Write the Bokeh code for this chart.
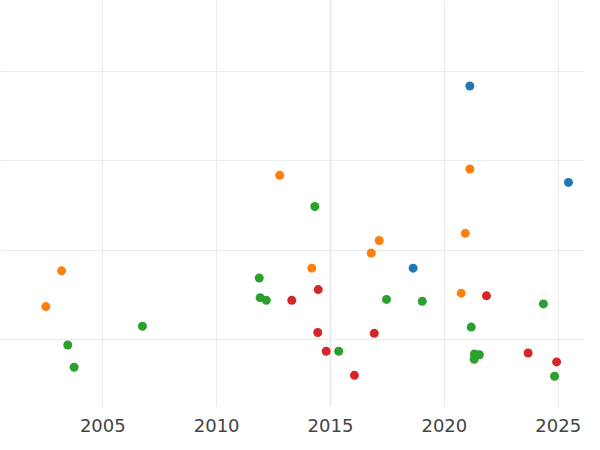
from bokeh.plotting import figure
from bokeh.models import FixedTicker, Span, Range1d
from bokeh.embed import file_html
from bokeh.resources import INLINE

blue_year = [2021.12, 2025.45, 2018.63]
blue_val = [3.84, 2.76, 1.80]

orange_year = [2012.77, 2021.12, 2003.19, 2002.50, 2014.18, 2016.79, 2017.14, 2020.92, 2020.74]
orange_val = [2.84, 2.91, 1.77, 1.37, 1.80, 1.97, 2.11, 2.19, 1.52]

green_year = [2014.31, 2006.74, 2003.46, 2003.74, 2011.87, 2011.91, 2012.18, 2015.36,
              2017.46, 2019.03, 2021.18, 2021.32, 2021.54, 2021.31, 2024.35, 2024.84]
green_val = [2.49, 1.15, 0.94, 0.69, 1.69, 1.47, 1.44, 0.87,
             1.45, 1.43, 1.14, 0.84, 0.83, 0.78, 1.40, 0.59]

red_year = [2013.30, 2014.46, 2014.44, 2014.81, 2016.05, 2016.92, 2021.85, 2023.68, 2024.93]
red_val = [1.44, 1.56, 1.08, 0.87, 0.60, 1.07, 1.49, 0.85, 0.75]

x_ticks = [2005, 2010, 2015, 2020, 2025]
y_grid = [1, 2, 3, 4]

p = figure(width=584, height=434, output_backend="svg", toolbar_location=None,
           x_range=Range1d(2000.507, 2026.155), y_range=Range1d(0.251, 4.797),
           min_border=0, outline_line_color=None, background_fill_color="white",
           border_fill_color="white")

p.yaxis.visible = False
p.xaxis.ticker = FixedTicker(ticks=x_ticks)
p.yaxis.ticker = FixedTicker(ticks=y_grid)
p.xaxis.axis_line_color = None
p.xaxis.major_tick_line_color = None
p.xaxis.minor_tick_line_color = None
p.xaxis.major_label_text_font = "DejaVu Sans"
p.xaxis.major_label_text_font_size = "18px"
p.xaxis.major_label_text_color = "#444444"
p.xaxis.major_label_standoff = 6

p.xgrid.grid_line_color = "#ebebeb"
p.ygrid.grid_line_color = "#ebebeb"
p.xgrid.grid_line_width = 1
p.ygrid.grid_line_width = 1

p.add_layout(Span(location=2015, dimension="height", line_color="#ebebeb", line_width=2, level="underlay"))

for xs, ys, c in [(blue_year, blue_val, "#1f77b4"), (orange_year, orange_val, "#ff7f0e"),
                  (green_year, green_val, "#2ca02c"), (red_year, red_val, "#d62728")]:
    p.scatter(xs, ys, size=9, fill_color=c, line_color=None)

open("out.html", "w").write(file_html(p, INLINE))
